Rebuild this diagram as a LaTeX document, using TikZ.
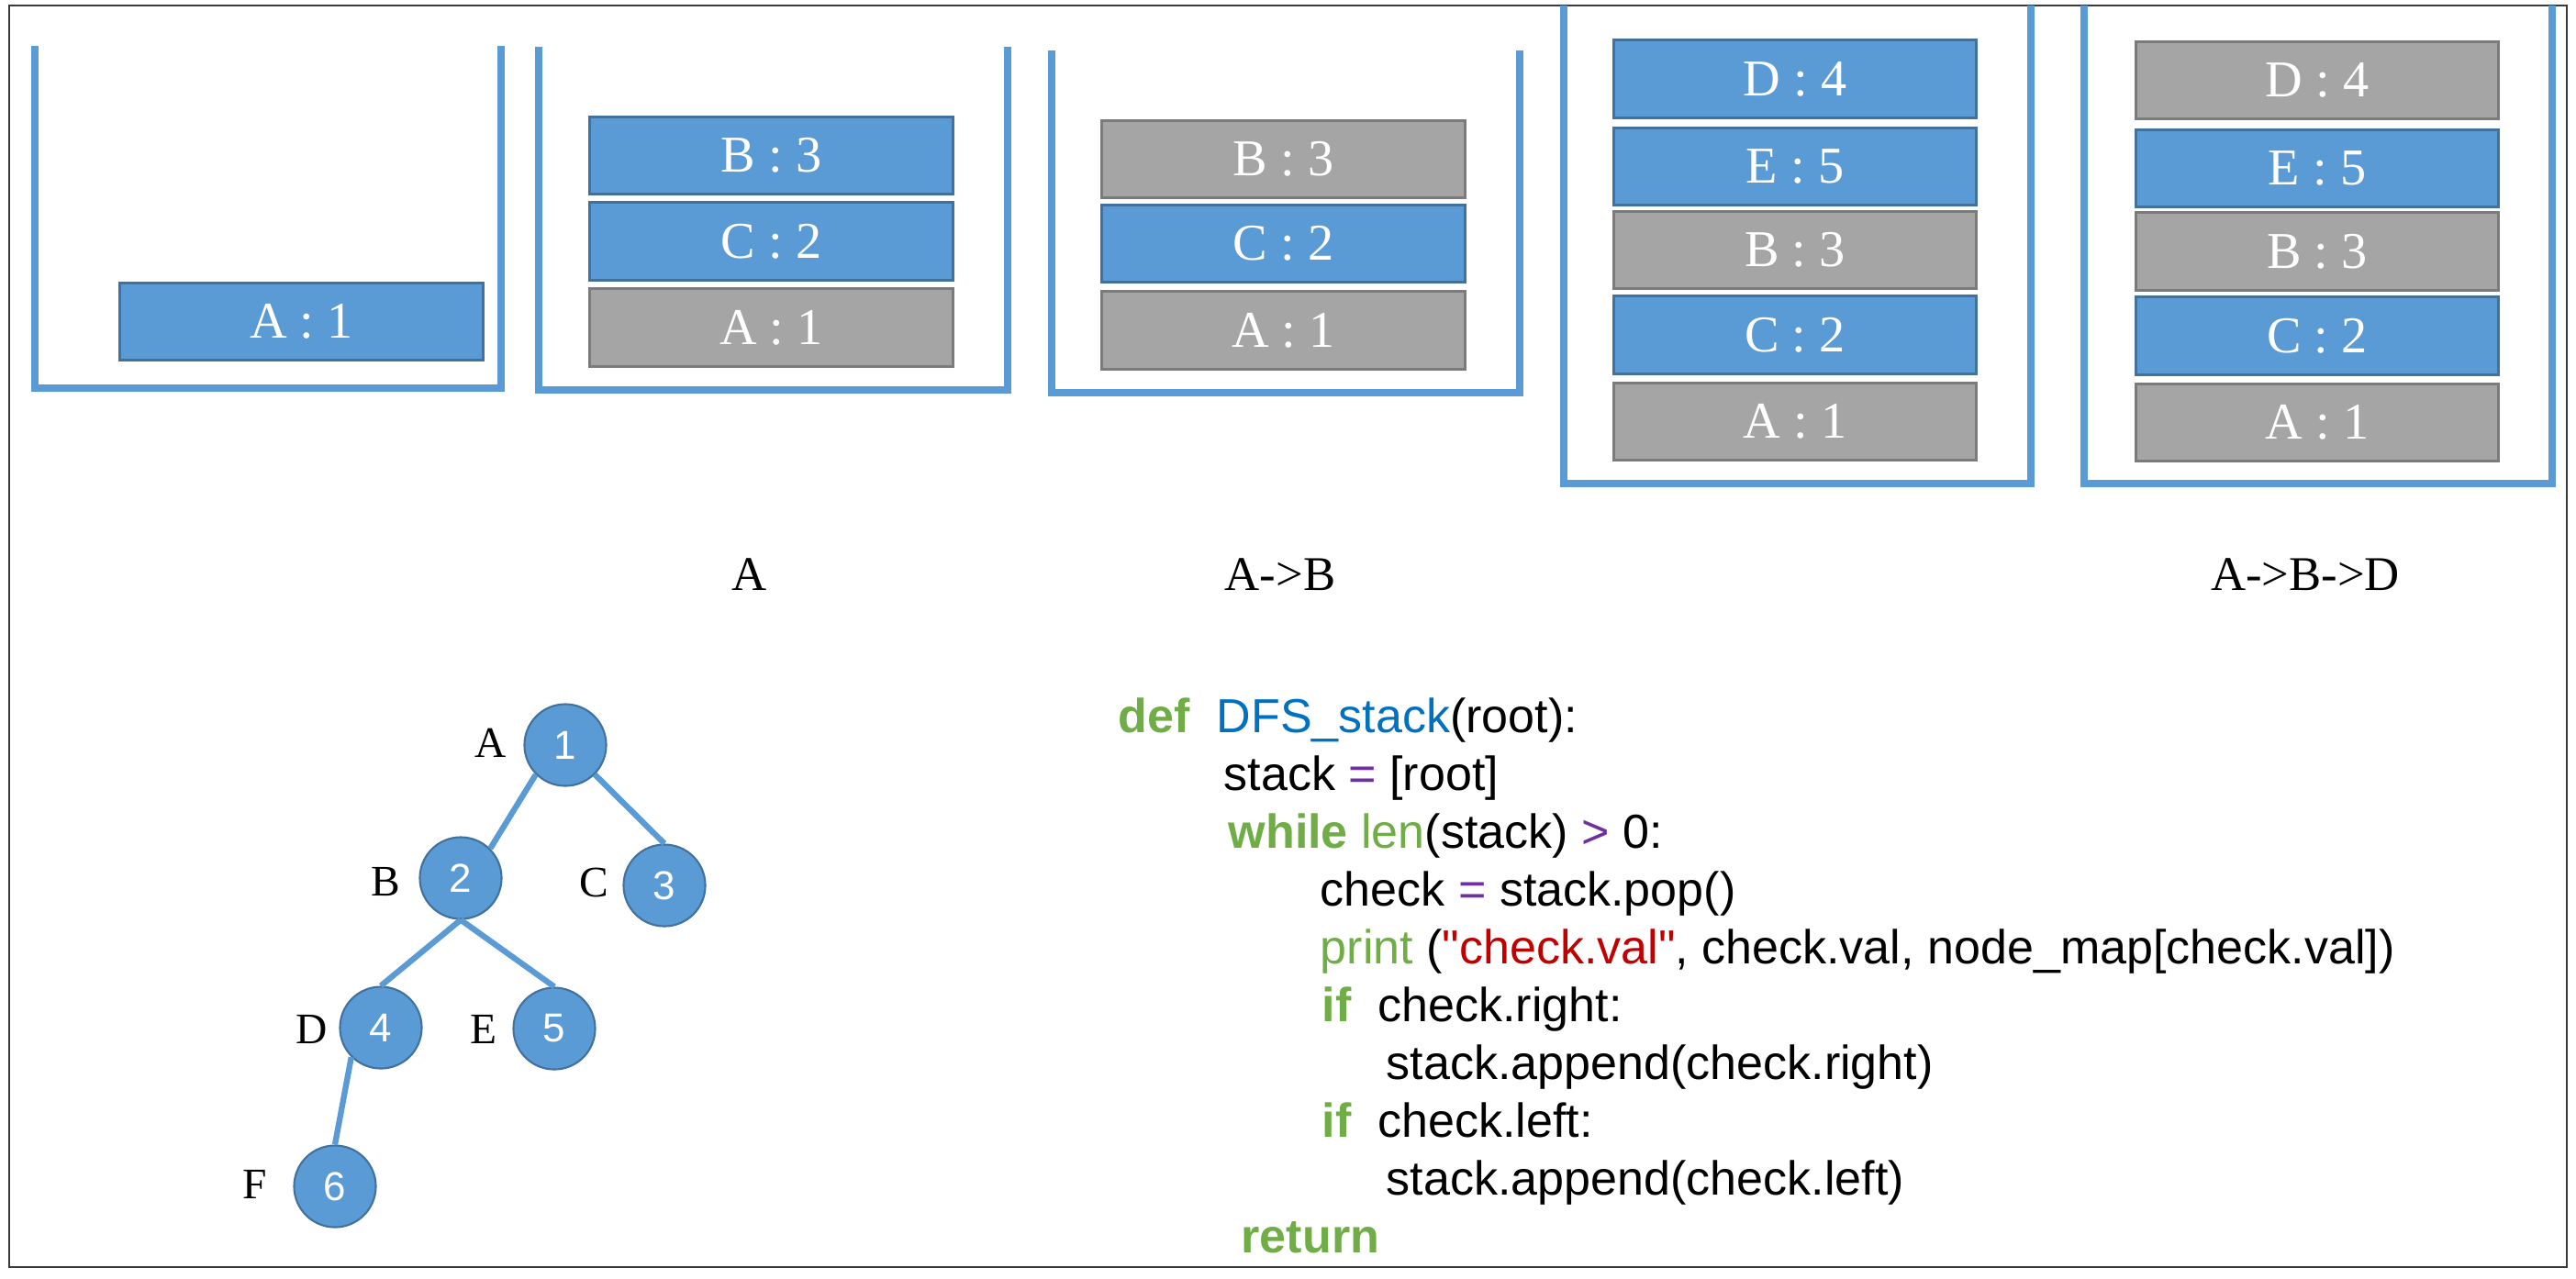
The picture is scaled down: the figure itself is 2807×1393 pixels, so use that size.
\documentclass[tikz,border=0pt]{standalone}
\usepackage{fontspec}
\setmainfont{Liberation Serif}
\newfontfamily\codefont{Liberation Sans}
\newfontfamily\digitfont{Liberation Sans}
\definecolor{cblue}{HTML}{5B9BD5}
\definecolor{cblueedge}{HTML}{41719C}
\definecolor{cgray}{HTML}{A5A5A5}
\definecolor{cgrayedge}{HTML}{7B7B7B}
\definecolor{kw}{HTML}{70AD47}
\definecolor{fn}{HTML}{0070C0}
\definecolor{op}{HTML}{7030A0}
\definecolor{strc}{HTML}{C00000}
\definecolor{framec}{HTML}{3A3A3A}
\begin{document}
\begin{tikzpicture}[x=0.01cm,y=-0.01cm,
  container/.style={draw=cblue,line width=2.3pt,line join=miter},
  cell/.style={minimum width=3.95cm,minimum height=0.84cm,inner sep=0pt,
    line width=0.85pt,text=white,font=\fontsize{16pt}{18pt}\selectfont},
  bluecell/.style={cell,fill=cblue,draw=cblueedge},
  graycell/.style={cell,fill=cgray,draw=cgrayedge},
  caption/.style={font=\fontsize{15pt}{18pt}\selectfont,inner sep=0pt},
  tnode/.style={circle,minimum size=0.89cm,inner sep=0pt,fill=cblue,draw=cblueedge,
    line width=0.6pt,text=white,font=\digitfont\fontsize{12.5pt}{14pt}\selectfont},
  tlabel/.style={font=\fontsize{13.5pt}{15pt}\selectfont,inner sep=0pt},
  tedge/.style={draw=cblue,line width=1.8pt},
  code/.style={anchor=base west,inner sep=0pt,font=\codefont\fontsize{14.8pt}{17pt}\selectfont}]
\useasboundingbox (0,0) rectangle (2807,1393);
% outer frame
\draw[framec,line width=0.55pt] (10,6) rectangle (2797,1381);

% stack containers
\draw[container] (38,50) -- (38,423) -- (546,423) -- (546,50);
\draw[container] (587,51) -- (587,425) -- (1098,425) -- (1098,51);
\draw[container] (1146,55) -- (1146,428) -- (1656,428) -- (1656,55);
\draw[container] (1704,6) -- (1704,527) -- (2213,527) -- (2213,6);
\draw[container] (2271,6) -- (2271,527) -- (2781,527) -- (2781,6);

% stack 1
\node[bluecell] (s1a) at (328.5,350.5) {A : 1};
% stack 2
\node[bluecell] (s2b) at (840.5,169.5) {B : 3};
\node[bluecell] (s2c) at (840.5,263) {C : 2};
\node[graycell] (s2a) at (840.5,357) {A : 1};
% stack 3
\node[graycell] (s3b) at (1398.5,173.5) {B : 3};
\node[bluecell] (s3c) at (1398.5,265.5) {C : 2};
\node[graycell] (s3a) at (1398.5,360) {A : 1};
% stack 4
\node[bluecell] (s4d) at (1956,86) {D : 4};
\node[bluecell] (s4e) at (1956,181.5) {E : 5};
\node[graycell] (s4b) at (1956,272.5) {B : 3};
\node[bluecell] (s4c) at (1956,365) {C : 2};
\node[graycell] (s4a) at (1956,459.5) {A : 1};
% stack 5
\node[graycell] (s5d) at (2525,87.5) {D : 4};
\node[bluecell] (s5e) at (2525,183.5) {E : 5};
\node[graycell] (s5b) at (2525,274) {B : 3};
\node[bluecell] (s5c) at (2525,366) {C : 2};
\node[graycell] (s5a) at (2525,460.5) {A : 1};

% visit order captions
\node[caption] (cap1) at (817,626) {A};
\node[caption] (cap2) at (1395,626) {A->B};
\node[caption] (cap3) at (2512,626) {A->B->D};

% tree
\node[tnode] (n1) at (616,812) {1};
\node[tnode] (n2) at (502,957) {2};
\node[tnode] (n3) at (724,965) {3};
\node[tnode] (n4) at (415,1120) {4};
\node[tnode] (n5) at (604,1121) {5};
\node[tnode] (n6) at (365,1293) {6};
\path[tedge] (n1.south west) -- (n2.north east);
\path[tedge] (n1.south east) -- (n3.north);
\path[tedge] (n2.south) -- (n4.north);
\path[tedge] (n2.south) -- (n5.north);
\path[tedge] (n4.south west) -- (n6.north);
\node[tlabel] (la) at (535,810) {A};
\node[tlabel] (lb) at (420,961) {B};
\node[tlabel] (lc) at (647,962) {C};
\node[tlabel] (ld) at (340,1122) {D};
\node[tlabel] (le) at (527,1122) {E};
\node[tlabel] (lf) at (278,1291) {F};

% code listing
\node[code] (c1) at (1218,798) {{\bfseries\color{kw}def}\ \ {\color{fn}DFS\_stack}(root):};
\node[code] (c2) at (1333,861) {stack {\color{op}=} [root]};
\node[code] (c3) at (1338,924) {{\bfseries\color{kw}while} {\color{kw}len}(stack) {\color{op}>} 0:};
\node[code] (c4) at (1438,987) {check {\color{op}=} stack.pop()};
\node[code] (c5) at (1438,1050) {{\color{kw}print} ({\color{strc}"check.val"}, check.val, node\_map[check.val])};
\node[code] (c6) at (1440,1113) {{\bfseries\color{kw}if}\ \ check.right:};
\node[code] (c7) at (1510,1176) {stack.append(check.right)};
\node[code] (c8) at (1440,1239) {{\bfseries\color{kw}if}\ \ check.left:};
\node[code] (c9) at (1510,1302) {stack.append(check.left)};
\node[code] (c10) at (1352,1365) {{\bfseries\color{kw}return}};
\end{tikzpicture}
\end{document}
